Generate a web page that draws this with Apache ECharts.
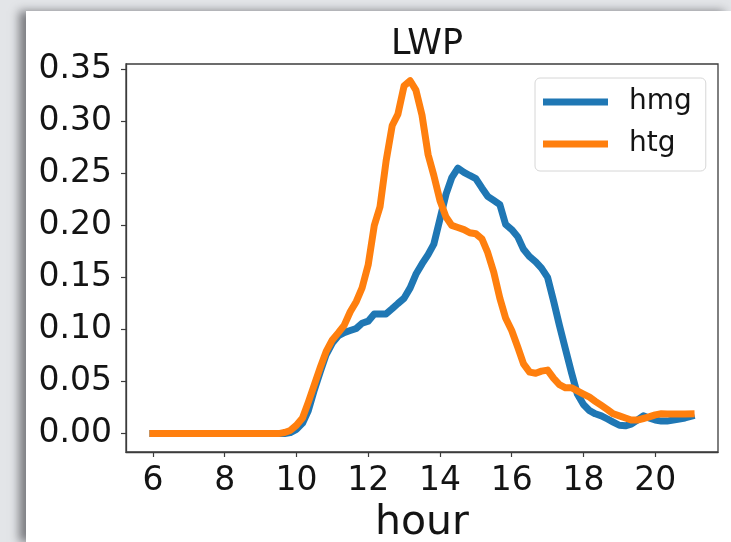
<!DOCTYPE html>
<html>
<head>
<meta charset="utf-8">
<title>LWP</title>
<script src="https://cdn.jsdelivr.net/npm/echarts@6/dist/echarts.min.js"></script>
<style>
  html, body { margin: 0; padding: 0; width: 731px; height: 542px; overflow: hidden; }
  body { background: #e3e5e8; position: relative; }
  #panel {
    position: absolute; left: 26px; top: 11px; right: 0; bottom: 0;
    background: #ffffff;
    box-shadow: -7px 0 9px rgba(40, 40, 45, 0.55);
  }
  #chart { position: absolute; left: 0; top: 0; width: 731px; height: 542px; }
</style>
</head>
<body>
<div id="panel"></div>
<div id="chart"></div>
<script>
// Time of day in hours, one sample every 10 minutes from 06:00 to 21:00
const hours = [
  6.00, 6.17, 6.33, 6.50, 6.67, 6.83,
  7.00, 7.17, 7.33, 7.50, 7.67, 7.83,
  8.00, 8.17, 8.33, 8.50, 8.67, 8.83,
  9.00, 9.17, 9.33, 9.50, 9.67, 9.83,
  10.00, 10.17, 10.33, 10.50, 10.67, 10.83,
  11.00, 11.17, 11.33, 11.50, 11.67, 11.83,
  12.00, 12.17, 12.33, 12.50, 12.67, 12.83,
  13.00, 13.17, 13.33, 13.50, 13.67, 13.83,
  14.00, 14.17, 14.33, 14.50, 14.67, 14.83,
  15.00, 15.17, 15.33, 15.50, 15.67, 15.83,
  16.00, 16.17, 16.33, 16.50, 16.67, 16.83,
  17.00, 17.17, 17.33, 17.50, 17.67, 17.83,
  18.00, 18.17, 18.33, 18.50, 18.67, 18.83,
  19.00, 19.17, 19.33, 19.50, 19.67, 19.83,
  20.00, 20.17, 20.33, 20.50, 20.67, 20.83,
  21.00
];

// Liquid water path, homogeneous case
const hmg = [
  0, 0, 0, 0, 0, 0,
  0, 0, 0, 0, 0, 0,
  0, 0, 0, 0, 0, 0,
  0, 0, 0, 0, 0, 0.001,
  0.004, 0.010, 0.022, 0.042, 0.060, 0.076,
  0.087, 0.094, 0.097, 0.099, 0.101, 0.106,
  0.108, 0.115, 0.115, 0.115, 0.120, 0.125,
  0.130, 0.140, 0.153, 0.163, 0.172, 0.182,
  0.206, 0.230, 0.246, 0.255, 0.251, 0.248,
  0.245, 0.236, 0.228, 0.224, 0.220, 0.201,
  0.196, 0.189, 0.177, 0.170, 0.165, 0.159,
  0.150, 0.127, 0.104, 0.081, 0.058, 0.038,
  0.028, 0.022, 0.019, 0.017, 0.014, 0.011,
  0.008, 0.0075, 0.009, 0.013, 0.017, 0.015,
  0.013, 0.012, 0.012, 0.013, 0.014, 0.015,
  0.0166
];

// Liquid water path, heterogeneous case
const htg = [
  0, 0, 0, 0, 0, 0,
  0, 0, 0, 0, 0, 0,
  0, 0, 0, 0, 0, 0,
  0, 0, 0, 0, 0.001, 0.003,
  0.008, 0.015, 0.030, 0.047, 0.064, 0.079,
  0.090, 0.097, 0.104, 0.117, 0.127, 0.140,
  0.162, 0.200, 0.218, 0.262, 0.296, 0.307,
  0.334, 0.339, 0.330, 0.306, 0.268, 0.248,
  0.224, 0.208, 0.200, 0.198, 0.196, 0.193,
  0.192, 0.187, 0.174, 0.155, 0.130, 0.111,
  0.099, 0.083, 0.067, 0.059, 0.058, 0.060,
  0.061, 0.053, 0.047, 0.044, 0.044, 0.041,
  0.038, 0.035, 0.031, 0.027, 0.023, 0.019,
  0.017, 0.015, 0.013, 0.013, 0.0145, 0.016,
  0.018, 0.019, 0.0187, 0.0187, 0.0187, 0.0188,
  0.019
];

const xTicks = [6, 8, 10, 12, 14, 16, 18, 20];
const yTicks = [0, 0.05, 0.10, 0.15, 0.20, 0.25, 0.30, 0.35];
const yTickLabels = ['0.00', '0.05', '0.10', '0.15', '0.20', '0.25', '0.30', '0.35'];

const FONT = 'DejaVu Sans';
const INK = '#141414';
const SPINE = '#3c3c3c';

const chart = echarts.init(document.getElementById('chart'), null, { renderer: 'canvas' });

function pairs(ys) {
  return hours.map((h, i) => [h, ys[i]]);
}

chart.setOption({
  animation: false,
  backgroundColor: 'transparent',
  title: {
    text: 'LWP',
    left: 422,
    textAlign: 'center',
    top: 22,
    textStyle: { fontFamily: FONT, fontSize: 35, fontWeight: 'normal', color: INK }
  },
  legend: {
    orient: 'vertical',
    left: 535,
    top: 78,
    padding: [7, 14, 10, 8],
    itemWidth: 65,
    itemHeight: 7,
    itemGap: 8,
    icon: 'rect',
    backgroundColor: '#ffffff',
    borderColor: '#d6d6d6',
    borderWidth: 1,
    borderRadius: 5,
    textStyle: { fontFamily: FONT, fontSize: 28, color: INK, lineHeight: 34, padding: [0, 0, 0, 16] },
    data: ['hmg', 'htg']
  },
  grid: {
    left: 126,
    top: 64,
    right: 13,
    bottom: 90,
    outerBoundsMode: 'none',
    containLabel: false,
    show: true,
    borderColor: SPINE,
    borderWidth: 1.3,
    backgroundColor: 'transparent'
  },
  xAxis: {
    type: 'value',
    min: 5.25,
    max: 21.75,
    name: 'hour',
    nameLocation: 'middle',
    nameGap: 51,
    nameTextStyle: { fontFamily: FONT, fontSize: 41, color: INK },
    splitLine: { show: false },
    axisLine: { show: true, onZero: false, lineStyle: { color: SPINE, width: 1.3 } },
    axisTick: { show: true, customValues: xTicks, length: 5, lineStyle: { color: SPINE, width: 1.2 } },
    axisLabel: {
      customValues: xTicks,
      margin: 13,
      fontFamily: FONT,
      fontSize: 33,
      color: INK,
      formatter: v => String(v)
    }
  },
  yAxis: {
    type: 'value',
    min: -0.0177,
    max: 0.3551,
    splitLine: { show: false },
    axisLine: { show: true, onZero: false, lineStyle: { color: SPINE, width: 1.3 } },
    axisTick: { show: true, customValues: yTicks, length: 5, lineStyle: { color: SPINE, width: 1.2 } },
    axisLabel: {
      customValues: yTicks,
      margin: 14,
      fontFamily: FONT,
      fontSize: 33,
      color: INK,
      formatter: v => yTickLabels[yTicks.findIndex(t => Math.abs(t - v) < 1e-6)] ?? v.toFixed(2)
    }
  },
  series: [
    {
      name: 'hmg',
      type: 'line',
      data: pairs(hmg),
      symbol: 'none',
      showSymbol: false,
      color: '#1f77b4',
      lineStyle: { width: 7, color: '#1f77b4', cap: 'square', join: 'round' },
      z: 2
    },
    {
      name: 'htg',
      type: 'line',
      data: pairs(htg),
      symbol: 'none',
      showSymbol: false,
      color: '#ff7f0e',
      lineStyle: { width: 7, color: '#ff7f0e', cap: 'square', join: 'round' },
      z: 3
    }
  ]
});
</script>
</body>
</html>
